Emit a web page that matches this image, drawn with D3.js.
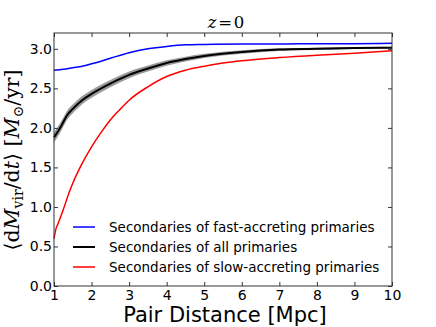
<!DOCTYPE html>
<html>
<head>
<meta charset="utf-8">
<script src="https://cdn.jsdelivr.net/npm/d3@7"></script>
<style>
  html, body { margin: 0; padding: 0; background: #fff; }
  svg { display: block; }
</style>
</head>
<body>
<svg id="chart" width="436" height="327"></svg>
<script>
// ---- data ----
const xTicks = [1, 2, 3, 4, 5, 6, 7, 8, 9, 10];
const yTicks = [0.0, 0.5, 1.0, 1.5, 2.0, 2.5, 3.0];

const fastX = [1, 1.25, 1.5, 1.75, 2, 2.5, 3, 3.5, 4, 4.5, 5, 6, 7, 8, 9, 10];
const fastY = [2.73, 2.74, 2.76, 2.78, 2.81, 2.88, 2.95, 3.00, 3.03, 3.05, 3.055, 3.06, 3.06, 3.065, 3.065, 3.07];

const allX = [1, 1.1, 1.2, 1.35, 1.5, 1.75, 2, 2.5, 3, 3.5, 4, 4.5, 5, 6, 7, 8, 9, 10];
const allY = [1.88, 1.95, 2.03, 2.16, 2.24, 2.35, 2.43, 2.56, 2.67, 2.75, 2.82, 2.87, 2.91, 2.96, 2.99, 3.00, 3.01, 3.015];
const allErr = [0.065, 0.063, 0.06, 0.058, 0.055, 0.052, 0.05, 0.046, 0.042, 0.038, 0.034, 0.03, 0.026, 0.021, 0.017, 0.015, 0.013, 0.012];

const slowX = [1, 1.05, 1.1, 1.15, 1.25, 1.4, 1.5, 1.75, 2, 2.25, 2.5, 2.75, 3, 3.5, 4, 4.5, 5, 5.5, 6, 7, 8, 9, 10];
const slowY = [0.6, 0.72, 0.78, 0.84, 0.97, 1.18, 1.30, 1.55, 1.76, 1.94, 2.10, 2.23, 2.35, 2.52, 2.65, 2.73, 2.78, 2.82, 2.85, 2.89, 2.92, 2.945, 2.975];

const legendLabels = [
  "Secondaries of fast-accreting primaries",
  "Secondaries of all primaries",
  "Secondaries of slow-accreting primaries"
];
const legendColors = ["#0000ff", "#000000", "#ff0000"];

// ---- layout ----
const svg = d3.select("#chart");
const L = 54, R = 392, T = 33, B = 286;
const x = d3.scaleLinear().domain([1, 10]).range([L, R]);
const y = d3.scaleLinear().domain([0, 3.2]).range([B, T]);

const toPts = (xs, ys) => xs.map((v, i) => [v, ys[i]]);

// band
const band = allX.map((v, i) => ({x: v, lo: allY[i] - allErr[i], hi: allY[i] + allErr[i]}));
svg.append("path")
  .datum(band)
  .attr("d", d3.area().x(d => x(d.x)).y0(d => y(d.lo)).y1(d => y(d.hi)).curve(d3.curveMonotoneX))
  .attr("fill", "#808080")
  .attr("fill-opacity", 0.8);

const line = d3.line().x(d => x(d[0])).y(d => y(d[1])).curve(d3.curveMonotoneX);

svg.append("path").datum(toPts(fastX, fastY)).attr("d", line)
  .attr("fill", "none").attr("stroke", legendColors[0]).attr("stroke-width", 1.5);
svg.append("path").datum(toPts(allX, allY)).attr("d", line)
  .attr("fill", "none").attr("stroke", legendColors[1]).attr("stroke-width", 2);
svg.append("path").datum(toPts(slowX, slowY)).attr("d", line)
  .attr("fill", "none").attr("stroke", legendColors[2]).attr("stroke-width", 1.5);

// axes (ticks inward)
const tickFont = "DejaVu Sans, sans-serif";
const axB = d3.axisBottom(x).tickValues(xTicks).tickSize(-4).tickPadding(4).tickFormat(d3.format("d"));
const axT = d3.axisTop(x).tickValues(xTicks).tickSize(-4).tickFormat("");
const axL = d3.axisLeft(y).tickValues(yTicks).tickSize(-4).tickPadding(2).tickFormat(d3.format(".1f"));
const axR = d3.axisRight(y).tickValues(yTicks).tickSize(-4).tickFormat("");

function style(g) {
  g.select(".domain").remove();
  g.selectAll(".tick line").attr("stroke", "#333").attr("stroke-width", 1);
  g.selectAll(".tick text").attr("font-family", tickFont).attr("font-size", 14).attr("fill", "#000");
}
svg.append("g").attr("transform", `translate(0,${B})`).call(axB).call(style);
svg.append("g").attr("transform", `translate(0,${T})`).call(axT).call(style);
svg.append("g").attr("transform", `translate(${L},0)`).call(axL).call(style);
svg.append("g").attr("transform", `translate(${R},0)`).call(axR).call(style);

// frame
svg.append("rect").attr("x", L).attr("y", T).attr("width", R - L).attr("height", B - T)
  .attr("fill", "none").attr("stroke", "#333").attr("stroke-width", 1);

// title z=0
const title = svg.append("text").attr("x", 226).attr("y", 28).attr("text-anchor", "middle")
  .attr("font-family", "DejaVu Serif, serif").attr("font-size", 16.5);
title.append("tspan").attr("font-style", "italic").text("z");
title.append("tspan").text("\u200A=\u200A");
title.append("tspan").text("0");

// x label
svg.append("text").attr("x", 225).attr("y", 322).attr("text-anchor", "middle")
  .attr("font-family", tickFont).attr("font-size", 21).text("Pair Distance [Mpc]");

// y label
const yl = svg.append("text")
  .attr("transform", "translate(19,160) rotate(-90)")
  .attr("text-anchor", "middle")
  .attr("font-family", "DejaVu Serif, serif").attr("font-size", 20.5);
yl.append("tspan").text("\u27E8d");
yl.append("tspan").attr("font-style", "italic").text("M");
yl.append("tspan").attr("font-size", 14).attr("dy", 4).text("vir");
yl.append("tspan").attr("dy", -4).text("/d");
yl.append("tspan").attr("font-style", "italic").text("t");
yl.append("tspan").text("\u27E9 [");
yl.append("tspan").attr("font-style", "italic").text("M");
yl.append("tspan").attr("font-size", 14).attr("dy", 4).text("\u2299");
yl.append("tspan").attr("dy", -4).text("/yr]");

// legend
const lg = svg.append("g");
legendLabels.forEach((t, i) => {
  const yy = 227 + i * 20;
  lg.append("line").attr("x1", 73).attr("x2", 95).attr("y1", yy).attr("y2", yy)
    .attr("stroke", legendColors[i]).attr("stroke-width", i === 1 ? 2 : 1.5);
  lg.append("text").attr("x", 109).attr("y", yy).attr("dy", "0.35em")
    .attr("font-family", tickFont).attr("font-size", 13.5).attr("fill", "#000").text(t);
});
</script>
</body>
</html>
